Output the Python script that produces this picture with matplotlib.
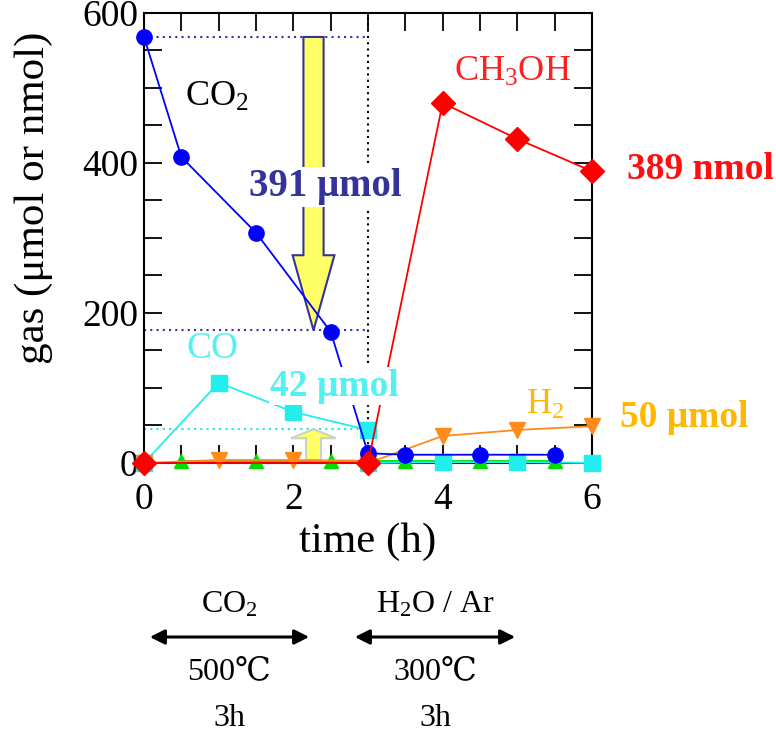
import matplotlib
matplotlib.use("Agg")
import matplotlib.pyplot as plt
from matplotlib.patches import FancyArrow, FancyArrowPatch
import numpy as np

plt.rcParams['font.family'] = ['Liberation Serif', 'DejaVu Serif', 'Noto Sans CJK JP']
plt.rcParams['mathtext.fontset'] = 'custom'
plt.rcParams['mathtext.rm'] = 'Liberation Serif'
plt.rcParams['mathtext.it'] = 'Liberation Serif:italic'
plt.rcParams['mathtext.bf'] = 'Liberation Serif:bold'

# ---- data ----
co2_t = [0, 0.5, 1.5, 2.5, 3, 3.5, 4.5, 5.5]
co2_v = [568, 408, 307, 175, 13, 11, 11, 11]

co_t1 = [0, 1, 2, 3]
co_v1 = [0, 107, 68, 44]
co_t2 = [3, 4, 5, 6]
co_v2 = [0, 1, 1, 0]

h2_t1 = [0, 1, 2, 3]
h2_v1 = [0, 4, 4, 3]
h2_t2 = [3, 4, 5, 6]
h2_v2 = [0, 36, 44, 49]

o2_t = [0.5, 1.5, 2.5, 3.5, 4.5, 5.5]
o2_v = [3, 3, 3, 3, 3, 3]

meoh_t = [0, 3, 4, 5, 6]
meoh_v = [0, 0, 480, 432, 389]

co2_start, co2_end = 568, 177
co_level = 45
arrow_x = 2.27

xticks = [0, 2, 4, 6]
yticks = [0, 200, 400, 600]

fig = plt.figure(figsize=(7.76, 7.37), dpi=100)
ax = fig.add_axes([0.1856, 0.3718, 0.5773, 0.6106])

ax.set_xlim(0, 6)
ax.set_ylim(0, 600)
ax.set_xticks(xticks)
ax.set_yticks(yticks)
ax.set_xticks(np.arange(0, 6.01, 0.5), minor=True)
ax.set_yticks(np.arange(0, 601, 50), minor=True)
ax.tick_params(which='both', direction='in', top=True, right=True, length=13, width=1.3,
               labelsize=27)
ax.tick_params(axis='x', which='major', pad=14)
ax.tick_params(axis='y', which='major', pad=4)
for s in ax.spines.values():
    s.set_linewidth(1.5)

# reference lines
ax.axvline(3, color='black', ls=(0, (1, 2)), lw=1.5, zorder=1)
ax.plot([0, 3], [co2_start, co2_start], color='#333399', ls=(0, (1, 2)), lw=1.5, zorder=1)
ax.plot([0, 3], [co2_end, co2_end], color='#333399', ls=(0, (1, 2)), lw=1.5, zorder=1)
ax.plot([0, 3], [co_level, co_level], color='#22E8E8', ls=(0, (1, 2)), lw=1.5, zorder=1)

# big arrow
ax.add_patch(FancyArrow(arrow_x, co2_start, 0, co2_end - co2_start, width=0.27,
                        head_width=0.56, head_length=100, length_includes_head=True,
                        facecolor='#FFFF66', edgecolor='#333399', lw=1.5, zorder=3))
# small arrow
ax.add_patch(FancyArrow(arrow_x, 4, 0, co_level - 4, width=0.2,
                        head_width=0.6, head_length=12, length_includes_head=True,
                        facecolor='#FFFF66', edgecolor='#C8D2C8', lw=1.5, zorder=3))

kw = dict(clip_on=False, lw=1.3)
ax.plot(o2_t, o2_v, color='#00DD00', marker='^', ms=10, zorder=4, **kw)
ax.plot(co_t1, co_v1, color='#22EEEE', marker='s', ms=11, zorder=5, **kw)
ax.plot(co_t2, co_v2, color='#22EEEE', marker='s', ms=11, zorder=5, **kw)
ax.plot(h2_t1, h2_v1, color='#FF8C1A', marker='v', ms=11, zorder=5, **kw)
ax.plot(h2_t2, h2_v2, color='#FF8C1A', marker='v', ms=11, zorder=5, **kw)
ax.plot(co2_t, co2_v, color='#0000FF', marker='o', ms=11, zorder=6, **kw)
ax.plot(meoh_t, meoh_v, color='#FF0000', marker='D', ms=12, zorder=7, **kw)

# labels
ax.text(0.98, 488, r'CO$_\mathrm{2}$', fontsize=26, ha='center', va='center', color='black')
ax.text(0.92, 152, 'CO', fontsize=27, ha='center', va='center', color='#55F0F0')
ax.text(4.94, 521, r'CH$_\mathrm{3}$OH', fontsize=26, ha='center', va='center', color='#FF2020')
ax.text(5.37, 77, r'H$_\mathrm{2}$', fontsize=25, ha='center', va='center', color='#FFB800')

ax.text(2.43, 368, '391 μmol', fontsize=28, fontweight='bold', ha='center', va='center',
        color='#333399', zorder=10,
        bbox=dict(facecolor='white', edgecolor='none', pad=1))
ax.text(2.55, 102, '42 μmol', fontsize=27, fontweight='bold', ha='center', va='center',
        color='#55F0F0', zorder=10,
        bbox=dict(facecolor='white', edgecolor='none', pad=1))
ax.text(6.47, 391, '389 nmol', fontsize=27, fontweight='bold', ha='left', va='center',
        color='#FF1010', clip_on=False)
ax.text(6.38, 60, '50 μmol', fontsize=27, fontweight='bold', ha='left', va='center',
        color='#FFB800', clip_on=False)

ax.set_xlabel('time (h)', fontsize=31, labelpad=4)
ax.set_ylabel('gas (μmol or nmol)', fontsize=31)
ax.yaxis.set_label_coords(-0.203, 0.59)

# bottom conditions
def fx(px):
    return px / 776.0
def fy(py):
    return 1 - py / 737.0

for x0, x1 in [(147, 312), (352, 518)]:
    fig.add_artist(FancyArrowPatch(
        (fx(x0), fy(637)), (fx(x1), fy(637)), transform=fig.transFigure,
        arrowstyle='<|-|>', mutation_scale=22, color='black', lw=2.2))

fig.text(fx(229), fy(605), r'CO$_\mathrm{2}$', fontsize=23, ha='center', va='center')
fig.text(fx(229), fy(672), '500℃', fontsize=23, ha='center', va='center')
fig.text(fx(229), fy(718), '3h', fontsize=23, ha='center', va='center')
fig.text(fx(435), fy(605), r'H$_\mathrm{2}$O / Ar', fontsize=23, ha='center', va='center')
fig.text(fx(435), fy(672), '300℃', fontsize=23, ha='center', va='center')
fig.text(fx(435), fy(718), '3h', fontsize=23, ha='center', va='center')

fig.savefig('out.png', dpi=100)
